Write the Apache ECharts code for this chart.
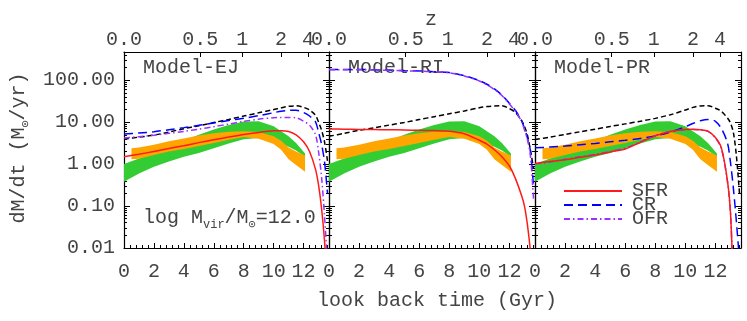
<!DOCTYPE html>
<html>
<head>
<meta charset="utf-8">
<script src="https://cdn.jsdelivr.net/npm/echarts@6/dist/echarts.min.js"></script>
<style>
html, body { margin: 0; padding: 0; background: #fff; }
#chart { width: 747px; height: 321px; }
</style>
</head>
<body>
<div id="chart"></div>
<script>
// look back time grid (Gyr) shared by the model curves
const T = [0, 1, 2, 3, 4, 5, 6, 7, 8, 9, 10, 10.5, 11, 11.5, 12, 12.4, 12.8, 13.0, 13.2, 13.4, 13.6];

// Model-EJ
const ejAcc = [3.9, 4.4, 4.9, 5.8, 7.0, 8.2, 9.8, 11.6, 14.0, 16.7, 20.0, 21.9, 23.8, 24.5, 22.5, 19.5, 14.5, 10.0, 6.5, 3.4, 1.2];
const ejCR = [5.2, 5.5, 5.9, 6.6, 7.4, 8.4, 9.6, 11.0, 12.4, 14.3, 16.8, 18.3, 19.0, 19.3, 17.0, 14.0, 10.2, 5.8, 3.0, 1.14, 0.2];
const ejOFR = [4.2, 4.5, 4.9, 5.4, 6.0, 6.8, 7.8, 9.0, 10.4, 11.8, 12.7, 12.9, 12.9, 12.7, 10.5, 8.5, 5.0, 2.0, 0.5, 0.06, 0.004];
const ejSFR = [1.5, 1.72, 2.0, 2.35, 2.75, 3.25, 3.8, 4.4, 5.1, 5.7, 6.2, 6.25, 6.0, 5.0, 3.4, 2.0, 0.75, 0.32, 0.09, 0.015, 0.001];

// Model-RI
const riAcc = [4.6, 5.4, 6.4, 7.3, 8.5, 9.8, 11.5, 13.5, 15.8, 18.5, 22.0, 23.5, 24.3, 24.5, 21.0, 17.0, 11.0, 8.0, 4.8, 2.1, 0.8];
const riCR = [180, 180, 180, 177, 174, 170, 166, 160, 152, 128, 98, 80, 62, 44, 28, 19, 11, 7.0, 4.2, 2.0, 0.3];
const riOFR = [178, 178, 178, 175, 172, 168, 164, 158, 150, 126, 96, 78, 60, 43, 27, 18, 10.5, 6.5, 3.8, 1.5, 0.15];
const riSFR = [6.9, 6.8, 6.7, 6.65, 6.6, 6.5, 6.4, 6.3, 6.1, 5.3, 3.7, 3.0, 2.2, 1.5, 0.9, 0.45, 0.18, 0.1, 0.035, 0.008, 0.001];

// Model-PR
const prAcc = [3.86, 4.4, 5.1, 5.9, 6.8, 7.9, 9.1, 10.5, 12.3, 15.0, 19.5, 22.5, 24.3, 24.5, 21.5, 18.0, 12.5, 9.5, 5.5, 1.5, 0.2];
const prCR = [2.45, 2.55, 2.7, 2.9, 3.1, 3.4, 3.7, 4.1, 4.7, 5.8, 7.8, 9.3, 10.8, 11.6, 10.5, 7.0, 3.2, 1.1, 0.25, 0.04, 0.005];
const prOFR = [1.0, 1.12, 1.3, 1.5, 1.7, 2.0, 2.4, 3.4, 4.8, 6.0, 6.6, 6.7, 6.5, 6.0, 4.2, 2.3, 0.38, 0.07, 0.002, 0.001, 0.001];
const prSFR = [1.04, 1.15, 1.27, 1.45, 1.65, 1.95, 2.3, 3.3, 4.7, 6.0, 6.7, 6.8, 6.6, 6.1, 4.3, 2.4, 0.4, 0.07, 0.002, 0.001, 0.001];

// observational bands (same in every panel)
const greenT = [0, 1, 2, 3, 4, 5, 6, 7, 8, 9, 10, 11, 11.5, 12.1];
const greenHi = [1.0, 1.36, 1.8, 2.6, 3.6, 5.0, 6.7, 8.6, 10.3, 10.5, 8.0, 4.6, 3.2, 1.8];
const greenLo = [0.38, 0.6, 0.86, 1.15, 1.5, 1.85, 2.4, 3.1, 3.9, 4.2, 3.6, 2.6, 2.1, 1.5];
const orangeT = [0.5, 1, 2, 3, 4, 5, 6, 7, 8, 9, 10, 10.5, 11, 11.5, 12.1];
const orangeHi = [2.4, 2.5, 2.9, 3.5, 4.1, 4.8, 5.4, 5.9, 6.1, 5.8, 4.6, 3.6, 2.5, 2.0, 1.6];
const orangeLo = [1.3, 1.35, 1.64, 2.0, 2.3, 2.7, 3.2, 3.8, 4.4, 4.0, 3.0, 2.2, 1.3, 0.95, 0.66];

// top redshift axis
const zTicks = ['0.0', '0.5', '1', '2', '4'];
const zLookback = [0, 5.1, 7.9, 10.5, 12.3];

const FONT = '"Liberation Mono", "DejaVu Sans Mono", monospace';
const TXT = '#444';
const GREEN = '#33cc33';
const ORANGE = '#ffa500';

const panels = [
  { name: 'Model-EJ', left: 124, width: 205, acc: ejAcc, cr: ejCR, ofr: ejOFR, sfr: ejSFR },
  { name: 'Model-RI', left: 329, width: 206, acc: riAcc, cr: riCR, ofr: riOFR, sfr: riSFR },
  { name: 'Model-PR', left: 535, width: 206, acc: prAcc, cr: prCR, ofr: prOFR, sfr: prSFR },
];

const pair = (xs, ys) => xs.map((x, i) => [x, ys[i]]);
const axisLine = { show: true, onZero: false, lineStyle: { color: '#000', width: 1.2 } };
const label = { fontFamily: FONT, fontSize: 20, color: TXT };
const isDecade = (v) => {
  const l = Math.log10(v);
  return Math.abs(l - Math.round(l)) < 1e-6;
};

// filled band between lo and hi, drawn as one polygon through the axis scales
const band = (i, ts, lo, hi, color) => ({
  type: 'custom', xAxisIndex: i, yAxisIndex: i, silent: true,
  data: ts.map((t, k) => [t, lo[k], hi[k]]),
  encode: { x: 0, y: [1, 2] },
  renderItem: (params, api) => {
    if (params.dataIndex !== 0) return null;
    const top = ts.map((t, k) => api.coord([t, hi[k]]));
    const bot = ts.map((t, k) => api.coord([t, lo[k]])).reverse();
    return { type: 'polygon', shape: { points: top.concat(bot) }, style: { fill: color } };
  },
});

const grid = [], xAxis = [], yAxis = [], series = [], graphic = [];

panels.forEach((p, i) => {
  grid.push({ left: p.left, top: 52, width: p.width, height: 196 });
  xAxis[i] = {
    type: 'value', gridIndex: i, position: 'bottom', min: 0, max: 13.7, interval: 2,
    axisLine,
    axisTick: { inside: true, length: 5, lineStyle: { color: '#000' } },
    minorTick: { show: true, splitNumber: 5, length: 3, lineStyle: { color: '#000' } },
    splitLine: { show: false },
    axisLabel: { ...label, margin: 14, formatter: (v) => (v % 2 === 0 ? String(v) : '') },
  };
  xAxis[3 + i] = {
    type: 'value', gridIndex: i, position: 'top', min: 0, max: 13.7,
    axisLine,
    axisTick: { inside: true, length: 5, customValues: zLookback, lineStyle: { color: '#000' } },
    splitLine: { show: false },
    axisLabel: {
      ...label, margin: 2, customValues: zLookback,
      formatter: (v) => { const k = zLookback.indexOf(v); return k < 0 ? '' : zTicks[k]; },
    },
  };
  const yBase = {
    type: 'log', gridIndex: i, min: 0.01, max: 470,
    axisLine,
    axisTick: { inside: true, length: 6, lineStyle: { color: '#000' } },
    minorTick: { show: true, splitNumber: 9, length: 3, lineStyle: { color: '#000' } },
    splitLine: { show: false },
  };
  yAxis[i] = {
    ...yBase, position: 'left',
    axisLabel: { ...label, show: i === 0, margin: 9, formatter: (v) => (isDecade(v) ? v.toFixed(2) : '') },
  };
  yAxis[3 + i] = { ...yBase, position: 'right', axisLabel: { show: false } };

  const ax = { xAxisIndex: i, yAxisIndex: i, symbol: 'none', silent: true, animation: false };
  series.push(
    band(i, greenT, greenLo, greenHi, GREEN),
    band(i, orangeT, orangeLo, orangeHi, ORANGE),
    { ...ax, type: 'line', name: 'ACC', smooth: 0.3, data: pair(T, p.acc),
      itemStyle: { color: '#000' }, lineStyle: { color: '#000', width: 1.5, type: [5, 3] } },
    { ...ax, type: 'line', name: 'CR', smooth: 0.3, data: pair(T, p.cr),
      itemStyle: { color: '#0000ff' }, lineStyle: { color: '#0000ff', width: 1.5, type: [9, 5] } },
    { ...ax, type: 'line', name: 'OFR', smooth: 0.3, data: pair(T, p.ofr),
      itemStyle: { color: '#9b30ff' }, lineStyle: { color: '#9b30ff', width: 1.5, type: [6, 3, 1.5, 3] } },
    { ...ax, type: 'line', name: 'SFR', smooth: 0.3, data: pair(T, p.sfr),
      itemStyle: { color: '#ff1a1a' }, lineStyle: { color: '#ff1a1a', width: 1.5 } }
  );
  graphic.push({
    type: 'text', x: p.left + 19, y: 68,
    style: { text: p.name, font: '20px ' + FONT, fill: TXT, align: 'left', verticalAlign: 'middle' },
  });
});

const sub = { fontSize: 12, fontFamily: FONT, fill: TXT, lineHeight: 26, verticalAlign: 'bottom' };
graphic.push(
  { type: 'text', x: 431, y: 20,
    style: { text: 'z', font: '20px ' + FONT, fill: TXT, align: 'center', verticalAlign: 'middle' } },
  { type: 'text', x: 437, y: 301,
    style: { text: 'look back time (Gyr)', font: '20px ' + FONT, fill: TXT, align: 'center', verticalAlign: 'middle' } },
  { type: 'text', x: 19, y: 148, rotation: Math.PI / 2,
    style: { text: 'dM/dt (M{s|⊙}/yr)', font: '20px ' + FONT, fill: TXT, align: 'center', verticalAlign: 'middle',
      rich: { s: sub } } },
  { type: 'text', x: 143, y: 218,
    style: { text: 'log M{s|vir}/M{s|⊙}=12.0', font: '20px ' + FONT, fill: TXT, align: 'left', verticalAlign: 'middle',
      rich: { s: sub } } }
);

const chart = echarts.init(document.getElementById('chart'));
chart.setOption({
  animation: false,
  grid, xAxis, yAxis, series, graphic,
  legend: {
    orient: 'vertical', left: 558, top: 176, itemWidth: 58, itemHeight: 12, itemGap: -6,
    selectedMode: false, data: ['SFR', 'CR', 'OFR'],
    itemStyle: { color: 'rgba(0,0,0,0)', borderWidth: 0 },
    textStyle: { fontFamily: FONT, fontSize: 20, color: TXT, lineHeight: 14, padding: [0, 0, 0, 5] },
  },
});
</script>
</body>
</html>
